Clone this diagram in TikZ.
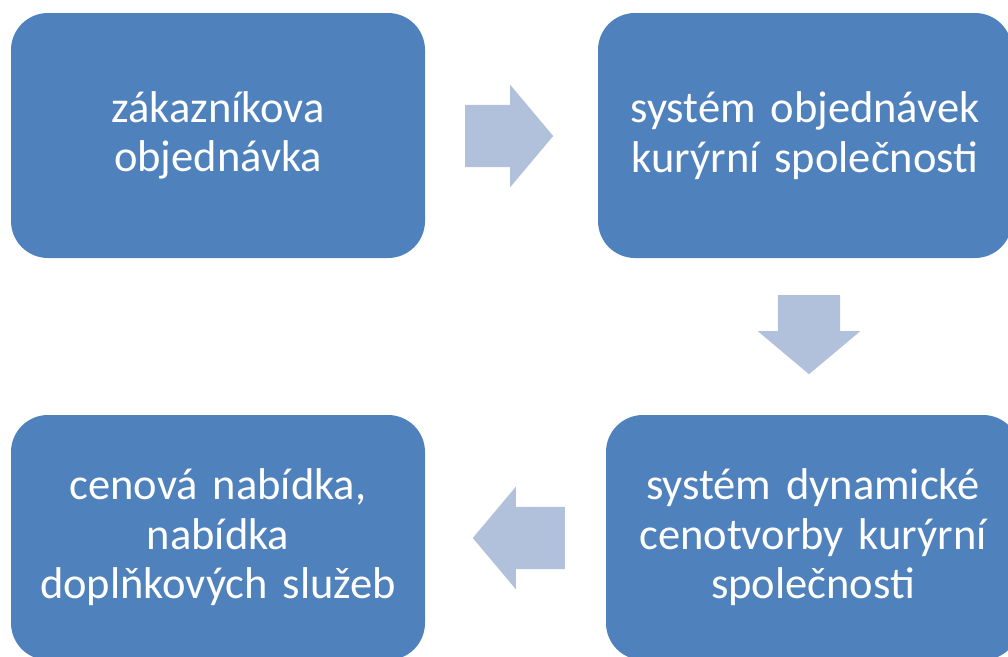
\documentclass[tikz,border=0pt]{standalone}
\usepackage{fontspec}
\setmainfont{Carlito}
\usetikzlibrary{shapes.arrows}

\definecolor{boxblue}{HTML}{4F81BD}
\definecolor{arrowblue}{HTML}{B2C1DB}

\tikzset{
  stepbox/.style={fill=boxblue, draw=none, rounded corners=37pt,
    minimum width=414pt, minimum height=245pt, text width=395pt,
    align=center, text=white, inner sep=0pt,
    font=\fontsize{44.5}{49.5}\selectfont},
  blockarrow/.style={single arrow, fill=arrowblue, draw=none,
    single arrow tip angle=100, single arrow head extend=20pt,
    inner xsep=0pt, inner ysep=31pt}
}

\begin{document}
\begin{tikzpicture}[x=1pt, y=-1pt]
  % Page frame
  \useasboundingbox (0,0) rectangle (1008,656);
  \clip (0,0) rectangle (1008,656);

  % Boxes
  \node[stepbox] (order)   at (218,135.5) {zákazníkova\\objednávka};
  \node[stepbox] (system)  at (805,135.5) {systém objednávek\\kurýrní společnosti};
  \node[stepbox] (pricing) at (813,537.5) {systém dynamické\\cenotvorby kurýrní\\společnosti};
  \node[stepbox] (offer)   at (218,537.5) {cenová nabídka,\\nabídka\\doplňkových služeb};

  % Block arrows
  \node[blockarrow, minimum height=88pt, anchor=tail] (right) at (465,136) {};
  \node[blockarrow, minimum height=79pt, shape border rotate=270,
    inner xsep=31pt, inner ysep=0pt, anchor=tail] (down) at (809,295) {};
  \node[blockarrow, minimum height=92pt, shape border rotate=180, anchor=tail] (left) at (565,538) {};
\end{tikzpicture}
\end{document}
